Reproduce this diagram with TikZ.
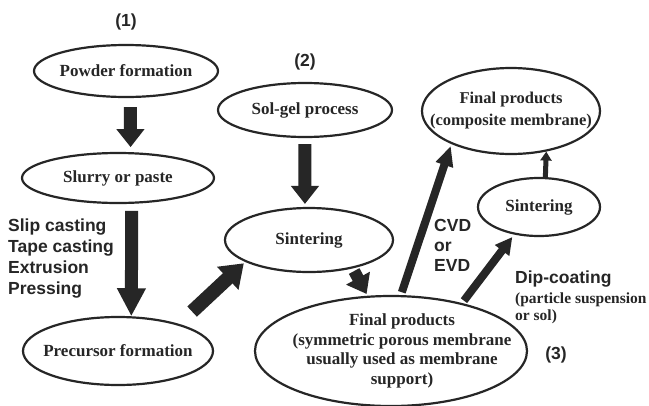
\documentclass[tikz,border=0pt]{standalone}
\usepackage{fontspec}
\setmainfont{Liberation Serif}
\setsansfont{Liberation Sans}
\usetikzlibrary{shapes.geometric,arrows.meta}
\begin{document}
\begin{tikzpicture}[x=1pt,y=-1pt,
  oval/.style={ellipse, draw=black!85, line width=2.2pt, inner xsep=-30pt, inner ysep=0pt, align=center,
    font=\fontsize{17}{20}\selectfont\bfseries, text=black!85},
  lab/.style={font=\fontsize{17.5}{21}\selectfont\sffamily\bfseries, text=black!85, inner sep=0pt, align=left},
  bigarrow/.style={draw=black!85, line width=13pt, -{Triangle[length=18pt,width=27pt]}},
  medarrow/.style={draw=black!85, line width=8pt, -{Triangle[length=20pt,width=17pt]}},
  smallarrow/.style={draw=black!85, line width=5pt, -{Triangle[length=9pt,width=11pt]}}
]
\path[use as bounding box, fill=white] (0,0) rectangle (649,405);

% nodes
\node[oval, minimum width=184pt, minimum height=52pt] (pow) at (126,71) {Powder formation};
\node[oval, minimum width=192pt, minimum height=50pt] (slur) at (118,178) {Slurry or paste};
\node[oval, minimum width=190pt, minimum height=68pt] (prec) at (118,351) {Precursor formation};
\node[oval, minimum width=174pt, minimum height=54pt] (sol) at (305,110) {Sol-gel process};
\node[oval, minimum width=168pt, minimum height=64pt] (sint) at (309,240) {Sintering};
\node[oval, minimum width=178pt, minimum height=86pt, inner xsep=-40pt, inner ysep=-8pt,
      font=\fontsize{16.5}{22}\selectfont\bfseries] (comp) at (511,111) {Final products\\(composite membrane)};
\node[oval, minimum width=122pt, minimum height=58pt] (sint2) at (539,207) {Sintering};
\node[oval, minimum width=272pt, minimum height=110pt, inner xsep=-50pt, inner ysep=-14pt,
      font=\fontsize{17}{19.5}\selectfont\bfseries] (fin) at (391,351)
      {\hspace*{22pt}\parbox{230pt}{\centering Final products\\(symmetric porous membrane\\usually used as membrane\\support)}};

% labels
\node[lab] (l1) at (126,22) {(1)};
\node[lab] (l2) at (305,62) {(2)};
\node[lab] (l3) at (556,355) {(3)};
\node[lab, anchor=north west, font=\fontsize{17.5}{21}\selectfont\sffamily\bfseries] (shape) at (8,219)
  {Slip casting\\Tape casting\\Extrusion\\Pressing};
\node[lab, anchor=north west, font=\fontsize{17.5}{20}\selectfont\sffamily\bfseries] (cvd) at (434,219)
  {CVD\\or\\EVD};
\node[lab, anchor=north west] (dip) at (515,271) {Dip-coating};
\node[anchor=north west, inner sep=0pt, align=left, text=black!85,
      font=\fontsize{15.5}{16.5}\selectfont\bfseries] (susp) at (515,293)
  {(particle suspension\\or sol)};

% connectors
\draw[bigarrow, shorten <=9pt, shorten >=5pt] (pow.-81) -- (slur.64);
\draw[bigarrow, -{Triangle[length=28pt,width=27pt]}, shorten <=7pt] (slur.-62) -- (prec.69);
\draw[bigarrow, shorten <=6pt, shorten >=3pt] (sol.south) -- (sint.97);
\draw[bigarrow, line width=14pt, -{Triangle[length=22pt,width=30pt]}, shorten <=18pt, shorten >=2pt] (prec.24) -- (sint.199);
\draw[bigarrow, line width=12pt, -{Triangle[length=18pt,width=26pt]}, shorten <=3pt, shorten >=2pt] (sint.-33) -- (fin.113);
\draw[medarrow, shorten <=3pt, shorten >=2pt] (fin.80) -- (comp.209);
\draw[medarrow, -{Triangle[length=17pt,width=17pt]}, shorten <=3pt, shorten >=3pt] (fin.34) -- (sint2.228);
\draw[smallarrow, shorten >=0pt] (sint2.78) -- (comp.-49);
\end{tikzpicture}
\end{document}
